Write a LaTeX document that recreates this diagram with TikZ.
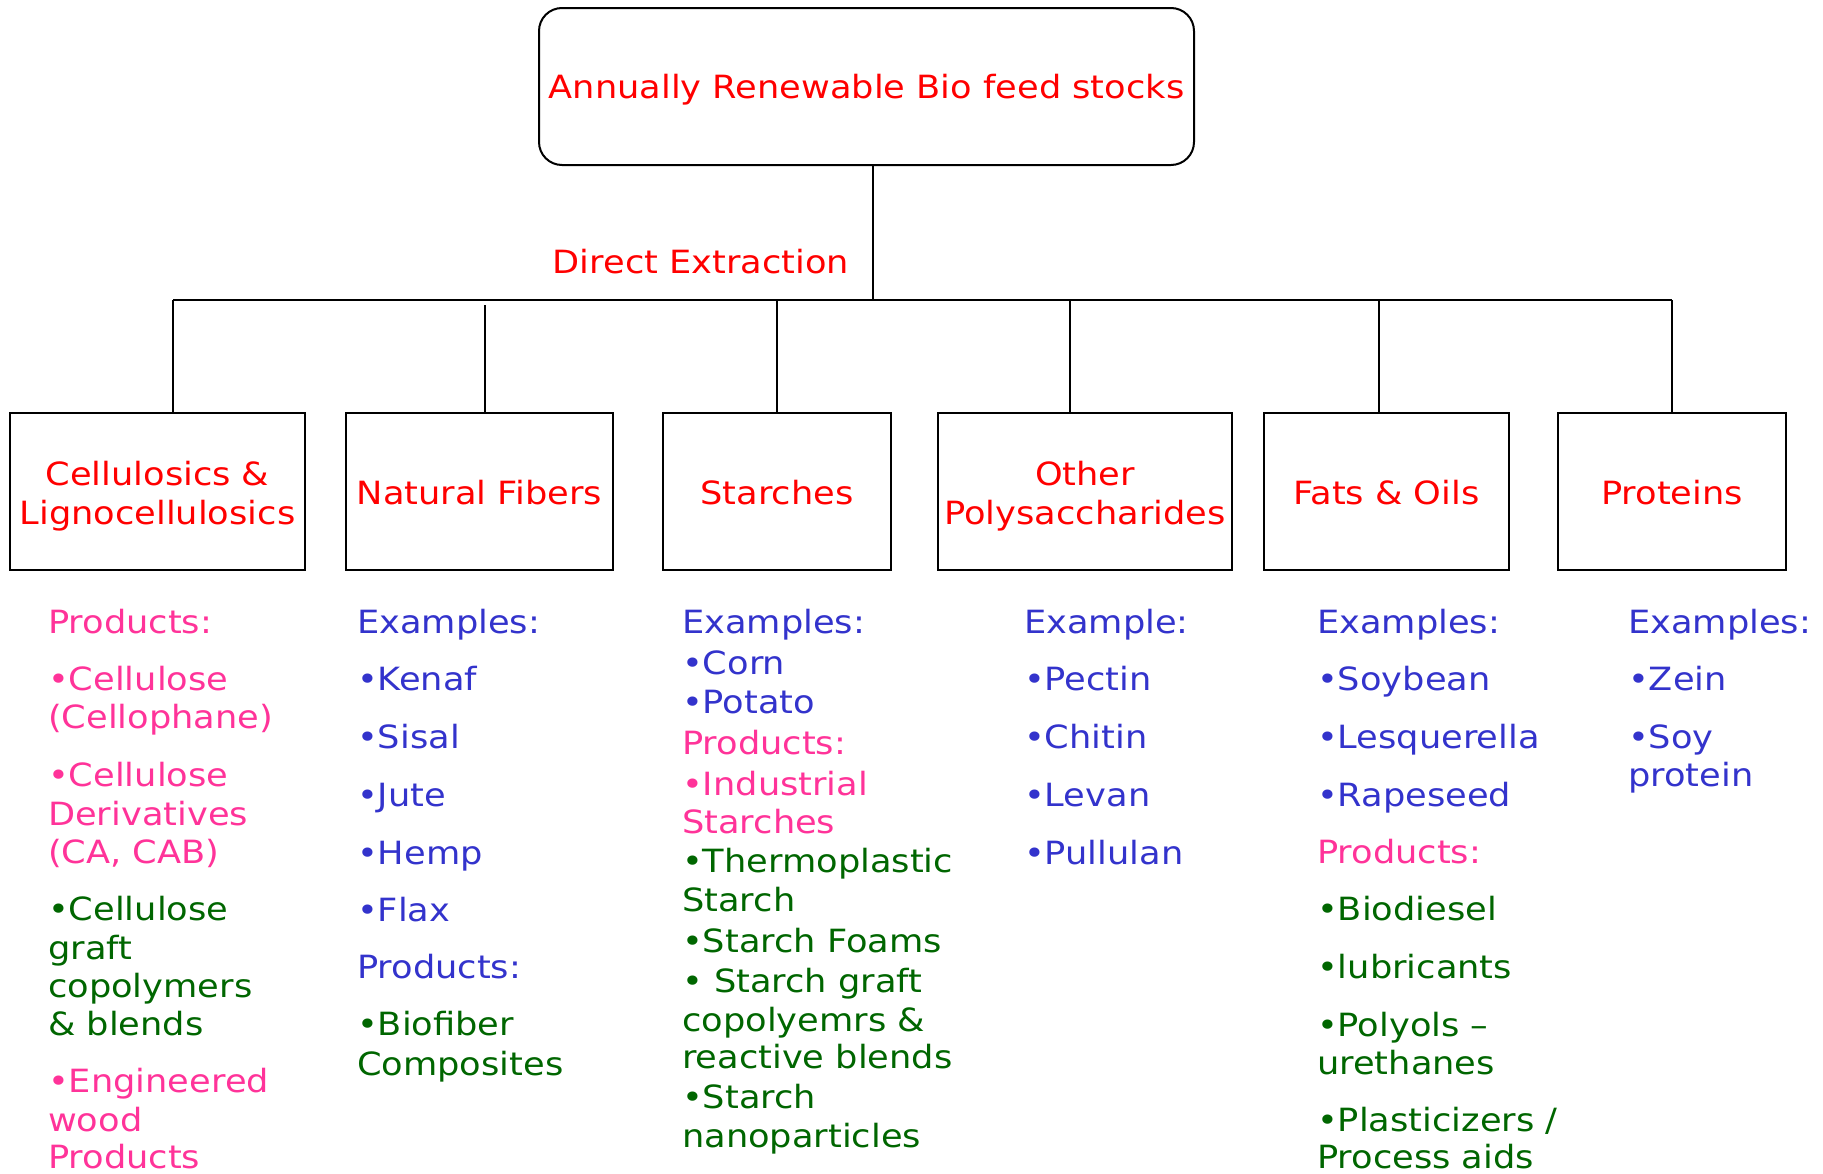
\documentclass[tikz,border=0pt]{standalone}
\usepackage{fontspec}
\setmainfont{DejaVu Sans}[FakeStretch=1.1]
\definecolor{pinkc}{RGB}{255,51,153}
\definecolor{bluec}{RGB}{51,51,204}
\definecolor{greenc}{RGB}{0,102,0}
\definecolor{redc}{RGB}{255,0,0}
\begin{document}
\begin{tikzpicture}[x=1pt,y=-1pt,
  box/.style={draw, line width=2pt, inner sep=0pt, minimum height=157pt},
  lbl/.style={inner sep=0pt, align=center, text=redc, font=\fontsize{32}{39}\selectfont},
  conn/.style={line width=1.6pt},
  it/.style={anchor=west, inner sep=0pt, text height=23.3pt, text depth=0pt,
    font=\fontsize{32}{38}\selectfont},
  pk/.style={text=pinkc}, bl/.style={text=bluec}, gr/.style={text=greenc}]
\useasboundingbox[fill=white] (0,0) rectangle (1823,1173);

% boxes
\node[box, rounded corners=23pt, minimum width=655pt] (top) at (866.5,86.5) {};
\node[box, minimum width=295pt] (b1) at (157.5,491.5) {};
\node[box, minimum width=267pt] (b2) at (479.5,491.5) {};
\node[box, minimum width=228pt] (b3) at (777,491.5) {};
\node[box, minimum width=294pt] (b4) at (1085,491.5) {};
\node[box, minimum width=245pt] (b5) at (1386.5,491.5) {};
\node[box, minimum width=228pt] (b6) at (1672,491.5) {};

% box labels
\node[lbl] (topt) at ([yshift=-3.5pt]top.center) {Annually Renewable Bio feed stocks};
\node[lbl] (b1t) at ([yshift=-4.5pt]b1.center) {Cellulosics \&\\Lignocellulosics};
\node[lbl] (b2t) at ([yshift=-1pt]b2.center) {Natural Fibers};
\node[lbl] (b3t) at ([yshift=-1pt]b3.center) {Starches};
\node[lbl] (b4t) at ([yshift=-4.5pt]b4.center) {Other\\Polysaccharides};
\node[lbl] (b5t) at ([yshift=-1pt]b5.center) {Fats \& Oils};
\node[lbl] (b6t) at ([yshift=-1pt]b6.center) {Proteins};

\node[lbl] (de) at (701,262) {Direct Extraction};

% connectors
\coordinate (busL) at (173,300);
\coordinate (busR) at (1672,300);
\draw[conn] ([xshift=6.5pt]top.south) -- ([xshift=6.5pt]top.south |- busL);
\draw[conn] (busL) -- (busR);
\draw[conn] ([xshift=15.5pt]b1.north) -- ([xshift=15.5pt]b1.north |- busL);
\draw[conn] ([xshift=5.5pt]b2.north) -- ([xshift=5.5pt,yshift=-5pt]b2.north |- busL);
\draw[conn] (b3.north) -- (b3.north |- busL);
\draw[conn] ([xshift=-15pt]b4.north) -- ([xshift=-15pt]b4.north |- busL);
\draw[conn] ([xshift=-7.5pt]b5.north) -- ([xshift=-7.5pt]b5.north |- busL);
\draw[conn] (b6.north) -- (b6.north |- busL);

% column 1
\node[it,pk] (a1) at (48,622) {Products:};
\node[it,pk] (a2) at (48,679) {•Cellulose};
\node[it,pk] (a3) at (48,717) {(Cellophane)};
\node[it,pk] (a4) at (48,775) {•Cellulose};
\node[it,pk] (a5) at (48,814) {Derivatives};
\node[it,pk] (a6) at (48,852) {(CA, CAB)};
\node[it,gr] (a7) at (48,909) {•Cellulose};
\node[it,gr] (a8) at (48,948) {graft};
\node[it,gr] (a9) at (48,986) {copolymers};
\node[it,gr] (a10) at (48,1024) {\& blends};
\node[it,pk] (a11) at (48,1081) {•Engineered};
\node[it,pk] (a12) at (48,1120) {wood};
\node[it,pk] (a13) at (48,1157) {Products};

% column 2
\node[it,bl] (n1) at (357,622) {Examples:};
\node[it,bl] (n2) at (357,679) {•Kenaf};
\node[it,bl] (n3) at (357,737) {•Sisal};
\node[it,bl] (n4) at (357,795) {•Jute};
\node[it,bl] (n5) at (357,853) {•Hemp};
\node[it,bl] (n6) at (357,910) {•Flax};
\node[it,bl] (n7) at (357,967) {Products:};
\node[it,gr] (n8) at (357,1024) {•Biofiber};
\node[it,gr] (n9) at (357,1064) {Composites};

% column 3
\node[it,bl] (s1) at (682,622) {Examples:};
\node[it,bl] (s2) at (682,663) {•Corn};
\node[it,bl] (s3) at (682,702) {•Potato};
\node[it,pk] (s4) at (682,743) {Products:};
\node[it,pk] (s5) at (682,784) {•Industrial};
\node[it,pk] (s6) at (682,822) {Starches};
\node[it,gr] (s7) at (682,861) {•Thermoplastic};
\node[it,gr] (s8) at (682,900) {Starch};
\node[it,gr] (s9) at (682,941) {•Starch Foams};
\node[it,gr] (s10) at (682,981) {• Starch graft};
\node[it,gr] (s11) at (682,1020) {copolyemrs \&};
\node[it,gr] (s12) at (682,1057) {reactive blends};
\node[it,gr] (s13) at (682,1097) {•Starch};
\node[it,gr] (s14) at (682,1136) {nanoparticles};

% column 4
\node[it,bl] (p1) at (1024,622) {Example:};
\node[it,bl] (p2) at (1024,679) {•Pectin};
\node[it,bl] (p3) at (1024,737) {•Chitin};
\node[it,bl] (p4) at (1024,795) {•Levan};
\node[it,bl] (p5) at (1024,853) {•Pullulan};

% column 5
\node[it,bl] (f1) at (1317,622) {Examples:};
\node[it,bl] (f2) at (1317,679) {•Soybean};
\node[it,bl] (f3) at (1317,737) {•Lesquerella};
\node[it,bl] (f4) at (1317,795) {•Rapeseed};
\node[it,pk] (f5) at (1317,852) {Products:};
\node[it,gr] (f6) at (1317,909) {•Biodiesel};
\node[it,gr] (f7) at (1317,967) {•lubricants};
\node[it,gr] (f8) at (1317,1025) {•Polyols –};
\node[it,gr] (f9) at (1317,1063) {urethanes};
\node[it,gr] (f10) at (1317,1120) {•Plasticizers /};
\node[it,gr] (f11) at (1317,1157) {Process aids};

% column 6
\node[it,bl] (r1) at (1628,622) {Examples:};
\node[it,bl] (r2) at (1628,679) {•Zein};
\node[it,bl] (r3) at (1628,737) {•Soy};
\node[it,bl] (r4) at (1628,775) {protein};
\end{tikzpicture}
\end{document}
